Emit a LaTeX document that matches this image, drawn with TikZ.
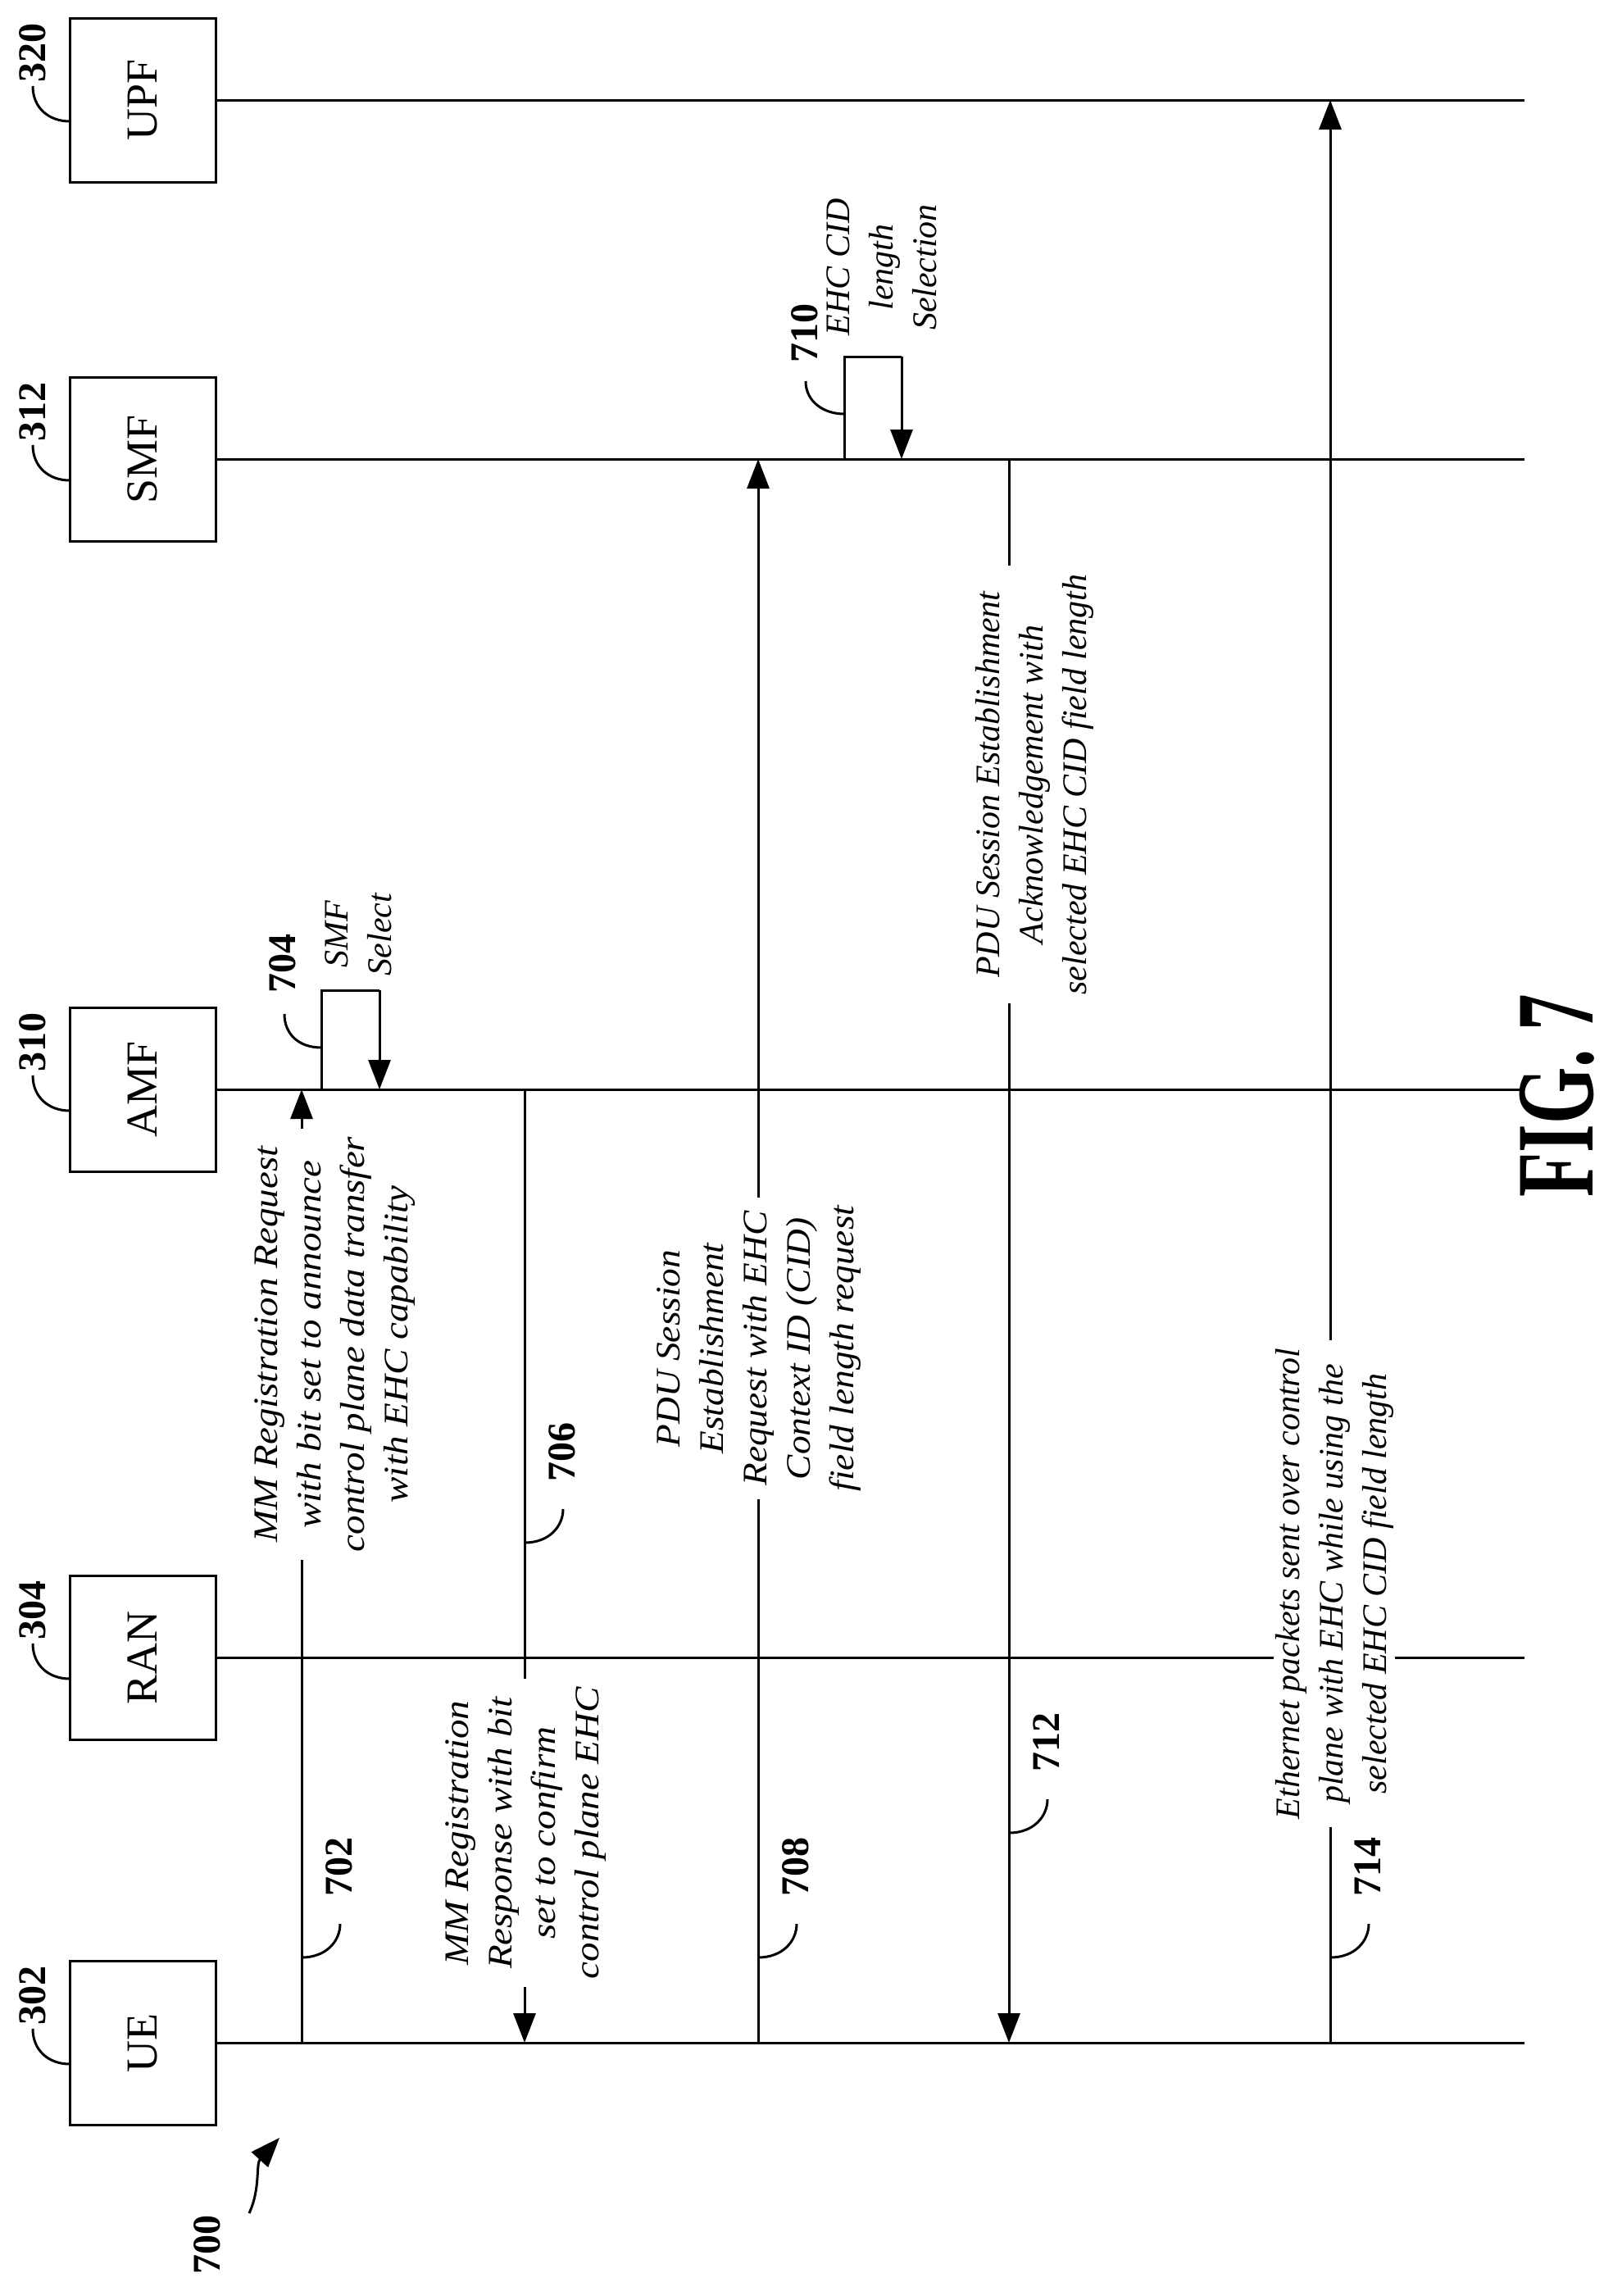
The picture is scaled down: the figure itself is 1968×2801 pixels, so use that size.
\documentclass[tikz,border=0pt]{standalone}
\usepackage{fontspec}
\setmainfont{Liberation Serif}
\usetikzlibrary{arrows.meta}
\begin{document}
\begin{tikzpicture}[x=1pt,y=1pt,
  ln/.style={line width=3pt},
  arr/.style={line width=3pt,-{Triangle[length=36pt,width=27pt]}},
  box/.style={draw,line width=3pt,minimum width=200pt,minimum height=178pt,rotate=90,font=\fontsize{54}{60}\selectfont,inner sep=0pt},
  num/.style={rotate=90,font=\fontsize{48}{52}\selectfont\bfseries,inner sep=0pt},
  msg/.style={rotate=90,fill=white,align=center,inner xsep=10pt,inner ysep=2pt,font=\fontsize{42}{53}\selectfont\itshape},
  lead/.style={line width=3pt}]
\useasboundingbox (0,0) rectangle (1968,-2801);
\node[box] (ue)  at (174,-2492) {UE};
\node[box] (ran) at (174,-2022) {RAN};
\node[box] (amf) at (174,-1329) {AMF};
\node[box] (smf) at (174,-560) {SMF};
\node[box] (upf) at (174,-122) {UPF};
\foreach \n/\y in {ue/2492,ran/2022,amf/1329,smf/560,upf/122}{
  \coordinate (\n end) at (1860,-\y);
  \draw[ln] (\n.south) -- (\n end);
}
\foreach \n/\t/\y in {ue/302/2492,ran/304/2022,amf/310/1329,smf/312/560,upf/320/122}{
  \node[num] (l\t) at (40,-\y+58) {\t};
  \draw[lead] (40,-\y+17) .. controls (40,-\y-10) and (60,-\y-26) .. (85,-\y-26);
}
\coordinate (a702) at (368,-2492); \coordinate (b702) at (368,-1329);
\coordinate (a706) at (640,-1329); \coordinate (b706) at (640,-2492);
\coordinate (a708) at (925,-2492); \coordinate (b708) at (925,-560);
\coordinate (a712) at (1231,-560); \coordinate (b712) at (1231,-2492);
\coordinate (a714) at (1623,-2492); \coordinate (b714) at (1623,-122);
\foreach \m in {702,706,708,712,714}{ \draw[arr] (a\m) -- (b\m); }
\node[msg] (t702) at (407,-1640) {\scalebox{1.12}[1]{\begin{tabular}{@{}c@{}}MM Registration Request\\with bit set to announce\\control plane data transfer\\with EHC capability\end{tabular}}};
\node[msg] (t706) at (640,-2236) {\scalebox{1.12}[1]{\begin{tabular}{@{}c@{}}MM Registration\\Response with bit\\set to confirm\\control plane EHC\end{tabular}}};
\node[msg] (t708) at (925,-1645) {\scalebox{1.08}[1]{\begin{tabular}{@{}c@{}}PDU Session\\Establishment\\Request with EHC\\Context ID (CID)\\field length request\end{tabular}}};
\node[msg] (t712) at (1262,-957) {PDU Session Establishment\\Acknowledgement with\\selected EHC CID field length};
\node[msg] (t714) at (1628,-1932) {Ethernet packets sent over control\\plane with EHC while using the\\selected EHC CID field length};
\foreach \m/\x/\ys in {702/368/2388,706/640/1882,708/925/2388,712/1231/2236,714/1623/2388}{
  \node[num] (n\m) at (\x+46,-\ys+111) {\m};
  \draw[lead] (\x,-\ys) .. controls (\x+30,-\ys) and (\x+47,-\ys+20) .. (\x+47,-\ys+41);
}
\coordinate (s704) at (392,-1329); \coordinate (e704) at (463,-1329);
\draw[ln] (s704) -- (392,-1208) -- (463,-1208);
\draw[arr] (463,-1208) -- (e704);
\node[msg,fill=none] (t704) at (437,-1140) {SMF\\Select};
\node[num] (n704) at (345,-1175) {704};
\draw[lead] (347,-1237) .. controls (347,-1262) and (365,-1278) .. (392,-1278);
\coordinate (s710) at (1030,-560); \coordinate (e710) at (1100,-560);
\draw[ln] (s710) -- (1030,-435) -- (1100,-435);
\draw[arr] (1100,-435) -- (e710);
\node[msg,fill=none] (t710) at (1076,-326) {EHC CID\\length\\Selection};
\node[num] (n710) at (982,-406) {710};
\draw[lead] (983,-465) .. controls (983,-490) and (1005,-505) .. (1030,-505);
\node[num] (n700) at (253,-2738) {700};
\coordinate (p700) at (341,-2608);
\draw[line width=3pt,-{Triangle[length=36pt,width=27pt]}] (304,-2700) .. controls (318,-2670) and (312,-2640) .. (p700);
\node[rotate=90,inner sep=0pt,font=\fontsize{135}{135}\selectfont\bfseries] (fig) at (1900,-1337) {\scalebox{0.66}[1]{FIG. 7}};
\end{tikzpicture}
\end{document}
